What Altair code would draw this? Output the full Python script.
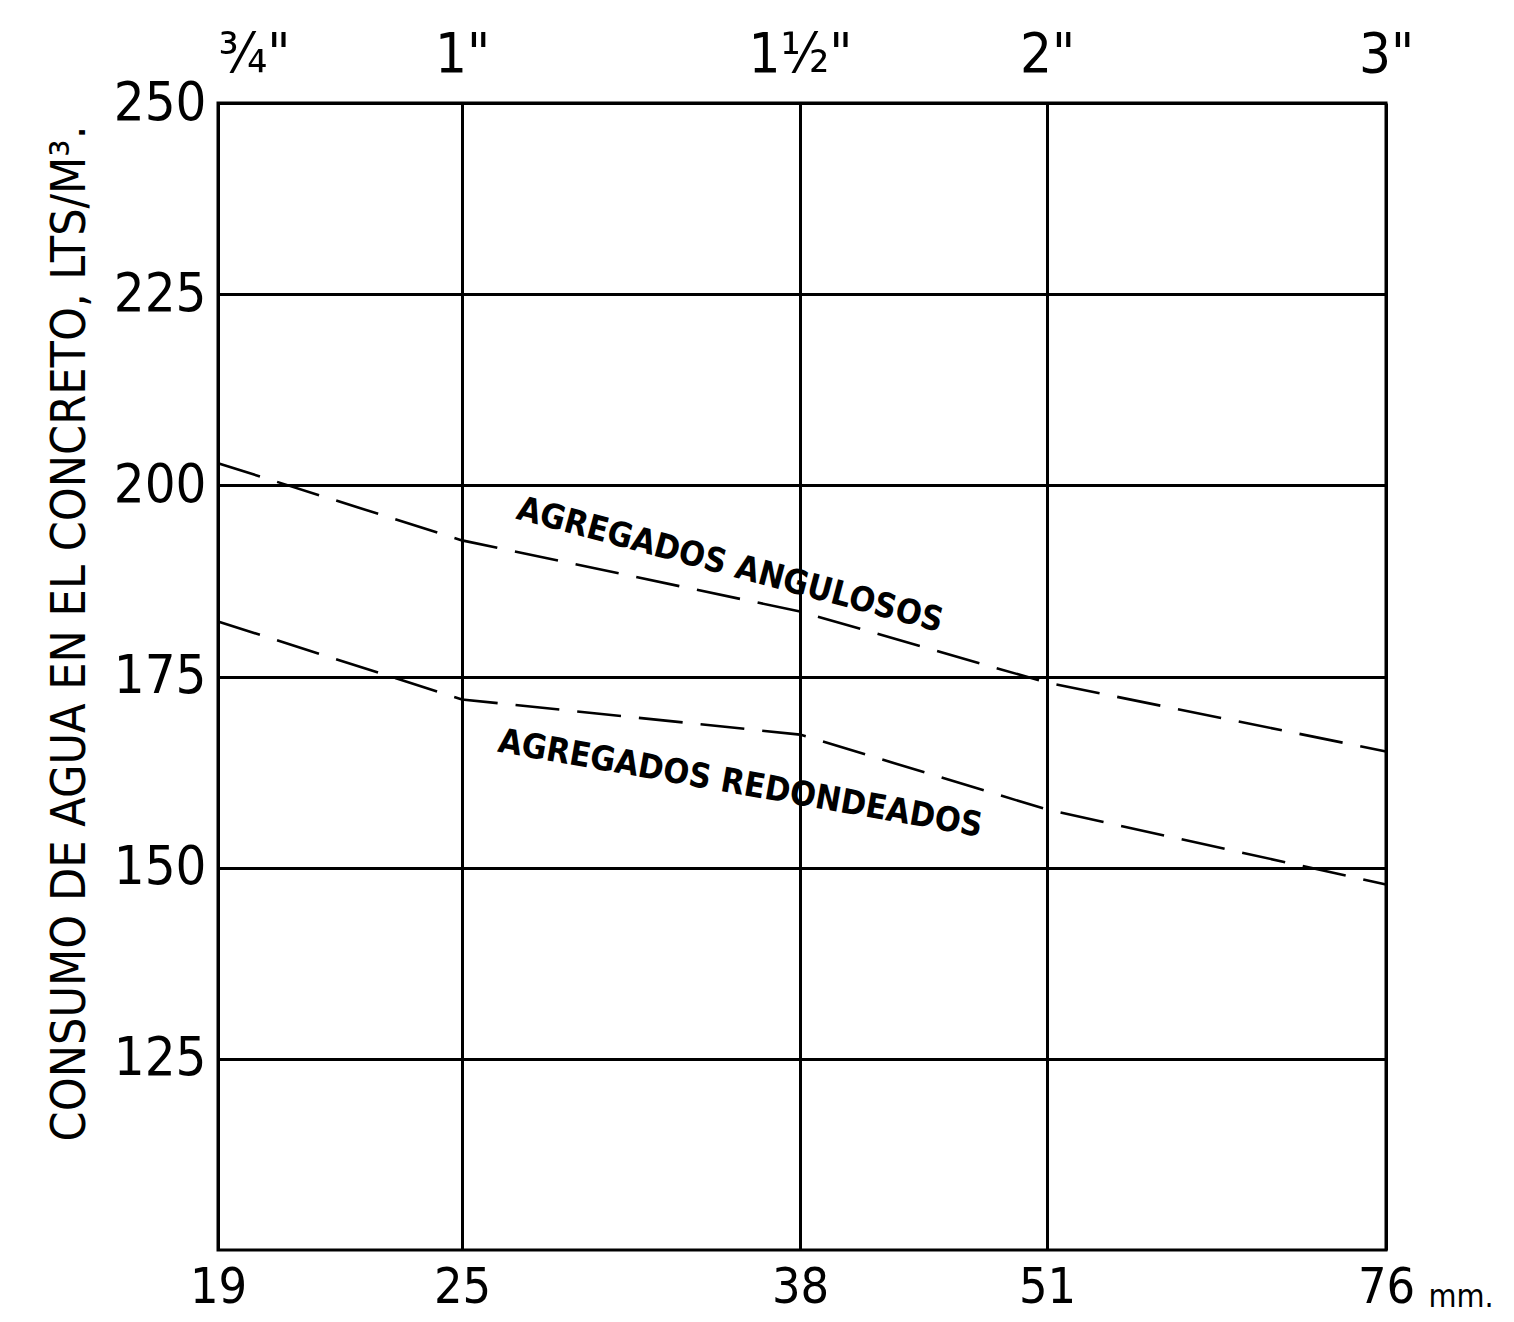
import altair as alt
import pandas as pd

# ---- data ----
mm = [19, 25, 38, 51, 76]
inch_labels = ['¾"', '1"', '1½"', '2"', '3"']
angulosos = [202.9, 192.8, 183.5, 174.2, 165.2]
redondeados = [182.2, 172.0, 167.4, 157.6, 147.8]
y_ticks = [125, 150, 175, 200, 225, 250]
label_text = ["AGREGADOS ANGULOSOS", "AGREGADOS REDONDEADOS"]
label_x = [35.3, 35.7]
label_y = [189.5, 160.9]
label_angle = [15, 10]

FONT = "DejaVu Sans Condensed, Liberation Sans Narrow, sans-serif"

lines_df = pd.DataFrame(
    {"mm": mm * 2,
     "agua": angulosos + redondeados,
     "serie": ["Angulosos"] * len(mm) + ["Redondeados"] * len(mm)}
)
labels_df = pd.DataFrame({"x": label_x, "y": label_y, "t": label_text, "a": label_angle})
top_df = pd.DataFrame({"mm": mm, "agua": [250] * len(mm)})

xscale = alt.Scale(type="linear", domain=mm, range=[0, 244, 582, 829, 1168], zero=False, nice=False)
yscale = alt.Scale(domain=[100, 250], zero=False, nice=False)

expr = "''"
for v, lab in reversed(list(zip(mm, inch_labels))):
    expr = f"datum.value == {v} ? '{lab}' : ({expr})"

bottom_axis = alt.Axis(values=mm, grid=True, gridColor="black", gridWidth=3, ticks=False, domain=False,
                       labelFont=FONT, labelFontSize=50, labelPadding=12, labelColor="black",
                       title="mm.", titleFont=FONT, titleFontSize=32, titleFontWeight="normal",
                       titleAlign="left", titleBaseline="alphabetic",
                       titleX=1210, titleY=56, titleColor="black", labelFlush=False)
y_axis = alt.Axis(values=y_ticks, grid=True, gridColor="black", gridWidth=3, ticks=False, domain=False,
                  labelFont=FONT, labelFontSize=54, labelPadding=12, labelColor="black",
                  title="CONSUMO DE AGUA EN EL CONCRETO, LTS/M³.", titleFont=FONT, titleFontSize=48,
                  titleFontWeight="normal", titleColor="black", titleAngle=270, titleX=-148, titleY=530,
                  titleAlign="center", titleBaseline="middle", labelFlush=False)

lines = alt.Chart(lines_df).mark_line(color="black", strokeWidth=2.6, strokeDash=[44, 18]).encode(
    x=alt.X("mm:Q", scale=xscale, axis=bottom_axis),
    y=alt.Y("agua:Q", scale=yscale, axis=y_axis),
    detail="serie:N",
)

texts = alt.Chart(labels_df).mark_text(font=FONT, fontSize=34, fontWeight="bold", color="black").encode(
    x=alt.X("x:Q", scale=xscale, axis=None),
    y=alt.Y("y:Q", scale=yscale),
    text="t:N",
    angle=alt.Angle("a:Q", scale=None),
)

top = alt.Chart(top_df).mark_point(opacity=0).encode(
    x=alt.X("mm:Q", scale=xscale,
            axis=alt.Axis(orient="top", values=mm, grid=False, ticks=False, domain=False,
                          labelExpr=expr, labelFont=FONT, labelFontSize=56, labelPadding=20,
                          labelAlign={"condition": {"test": f"datum.value == {mm[0]}", "value": "left"},
                                      "value": "center"},
                          labelColor="black", title=None, labelFlush=False)),
    y=alt.Y("agua:Q", scale=yscale),
)

chart = alt.layer(lines, texts, top).resolve_axis(x="independent").properties(
    width=1168, height=1147,
    autosize=alt.AutoSizeParams(type="none"),
    padding={"left": 210, "top": 95, "right": 110, "bottom": 70},
    background="white",
).configure_view(stroke="black", strokeWidth=3)

chart.save("out.html", embed_options={"renderer": "svg", "actions": False})
